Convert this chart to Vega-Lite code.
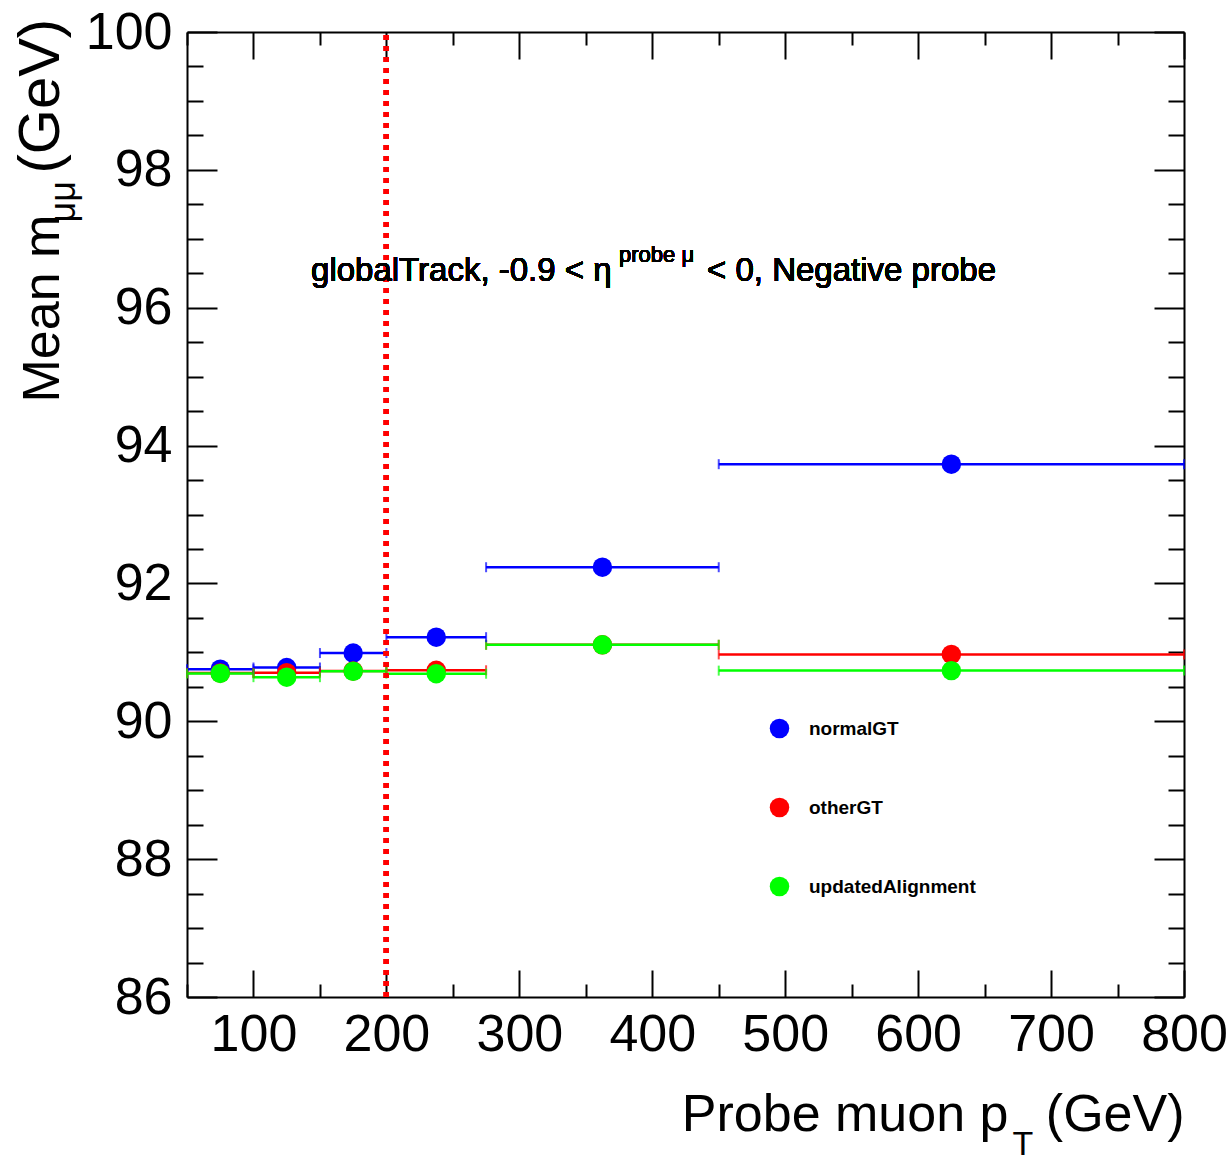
{
  "$schema": "https://vega.github.io/schema/vega-lite/v6.json",
  "width": 997,
  "height": 965,
  "autosize": "none",
  "padding": {"left": 187, "top": 32, "right": 47, "bottom": 166},
  "background": "white",
  "config": {
    "view": {"stroke": null},
    "font": "Liberation Sans",
    "axis": {
      "domainColor": "black", "domainWidth": 2, "tickColor": "black", "tickWidth": 2,
      "grid": false, "labelFont": "Liberation Sans", "titleFont": "Liberation Sans",
      "labelColor": "black", "titleColor": "black", "titleFontWeight": "normal",
      "labelFlush": false, "labelOverlap": false, "labelBound": false
    }
  },
  "data": {"values": [
    {"series": "normalGT", "pt": 75, "lo": 50, "hi": 100, "mean": 90.755},
    {"series": "normalGT", "pt": 125, "lo": 100, "hi": 150, "mean": 90.78},
    {"series": "normalGT", "pt": 175, "lo": 150, "hi": 200, "mean": 90.99},
    {"series": "normalGT", "pt": 237.5, "lo": 200, "hi": 275, "mean": 91.22},
    {"series": "normalGT", "pt": 362.5, "lo": 275, "hi": 450, "mean": 92.235},
    {"series": "normalGT", "pt": 625, "lo": 450, "hi": 800, "mean": 93.73},
    {"series": "otherGT", "pt": 75, "lo": 50, "hi": 100, "mean": 90.70},
    {"series": "otherGT", "pt": 125, "lo": 100, "hi": 150, "mean": 90.705},
    {"series": "otherGT", "pt": 175, "lo": 150, "hi": 200, "mean": 90.73},
    {"series": "otherGT", "pt": 237.5, "lo": 200, "hi": 275, "mean": 90.74},
    {"series": "otherGT", "pt": 362.5, "lo": 275, "hi": 450, "mean": 91.11},
    {"series": "otherGT", "pt": 625, "lo": 450, "hi": 800, "mean": 90.97},
    {"series": "updatedAlignment", "pt": 75, "lo": 50, "hi": 100, "mean": 90.695},
    {"series": "updatedAlignment", "pt": 125, "lo": 100, "hi": 150, "mean": 90.64},
    {"series": "updatedAlignment", "pt": 175, "lo": 150, "hi": 200, "mean": 90.725},
    {"series": "updatedAlignment", "pt": 237.5, "lo": 200, "hi": 275, "mean": 90.69},
    {"series": "updatedAlignment", "pt": 362.5, "lo": 275, "hi": 450, "mean": 91.11},
    {"series": "updatedAlignment", "pt": 625, "lo": 450, "hi": 800, "mean": 90.735}
  ]},
  "resolve": {"axis": {"x": "independent", "y": "independent"}, "legend": {"color": "independent"}},
  "layer": [
    {
      "mark": {"type": "rule", "strokeWidth": 2.5},
      "encoding": {
        "x": {"field": "lo", "type": "quantitative",
          "scale": {"domain": [50, 800], "nice": false, "zero": false},
          "axis": {"orient": "bottom",
            "values": [50,100,150,200,250,300,350,400,450,500,550,600,650,700,750,800],
            "tickSize": {"condition": {"test": "datum.value % 100 === 0", "value": -27}, "value": -13},
            "labelExpr": "datum.value % 100 === 0 ? format(datum.value, 'd') : ''",
            "labelFontSize": 52, "labelPadding": 39,
            "title": "Probe muon p", "titleFontSize": 52, "titleAlign": "right", "titleBaseline": "alphabetic",
            "titleX": 821, "titleY": 133, "titleAngle": 0}},
        "x2": {"field": "hi"},
        "y": {"field": "mean", "type": "quantitative",
          "scale": {"domain": [86, 100], "nice": false, "zero": false},
          "axis": {"orient": "left",
            "values": [86,86.5,87,87.5,88,88.5,89,89.5,90,90.5,91,91.5,92,92.5,93,93.5,94,94.5,95,95.5,96,96.5,97,97.5,98,98.5,99,99.5,100],
            "tickSize": {"condition": {"test": "datum.value % 2 === 0", "value": -30}, "value": -16},
            "labelExpr": "datum.value % 2 === 0 ? format(datum.value, 'd') : ''",
            "labelFontSize": 52, "labelPadding": 45, "labelBaseline": "middle",
            "title": "Mean m", "titleFontSize": 52, "titleAngle": 270, "titleAlign": "left", "titleBaseline": "alphabetic",
            "titleX": -129, "titleY": 370}},
        "color": {"field": "series", "type": "nominal",
          "scale": {"domain": ["normalGT", "otherGT", "updatedAlignment"], "range": ["#0000ff", "#ff0000", "#00ff00"]},
          "legend": null}
      }
    },
    {
      "mark": {"type": "tick", "orient": "vertical", "size": 10, "thickness": 2},
      "encoding": {
        "x": {"field": "lo", "type": "quantitative",
          "axis": {"orient": "top",
            "values": [50,100,150,200,250,300,350,400,450,500,550,600,650,700,750,800],
            "tickSize": {"condition": {"test": "datum.value % 100 === 0", "value": -27}, "value": -13},
            "labels": false, "title": null}},
        "y": {"field": "mean", "type": "quantitative",
          "axis": {"orient": "right",
            "values": [86,86.5,87,87.5,88,88.5,89,89.5,90,90.5,91,91.5,92,92.5,93,93.5,94,94.5,95,95.5,96,96.5,97,97.5,98,98.5,99,99.5,100],
            "tickSize": {"condition": {"test": "datum.value % 2 === 0", "value": -30}, "value": -16},
            "labels": false, "title": null}},
        "color": {"field": "series", "type": "nominal", "legend": null}
      }
    },
    {
      "mark": {"type": "tick", "orient": "vertical", "size": 10, "thickness": 2},
      "encoding": {
        "x": {"field": "hi", "type": "quantitative",
          "axis": {"orient": "bottom", "values": [], "ticks": false, "labels": false, "domain": false,
            "title": "T", "titleFontSize": 34, "titleAlign": "left", "titleBaseline": "alphabetic",
            "titleX": 825, "titleY": 157, "titleAngle": 0}},
        "y": {"field": "mean", "type": "quantitative",
          "axis": {"orient": "left", "values": [], "ticks": false, "labels": false, "domain": false,
            "title": "μμ", "titleFontSize": 36, "titleAngle": 270, "titleAlign": "left", "titleBaseline": "alphabetic",
            "titleX": -113, "titleY": 190}},
        "color": {"field": "series", "type": "nominal", "legend": null}
      }
    },
    {
      "mark": {"type": "rule", "color": "#ff0000", "strokeWidth": 5, "strokeDash": [5, 6]},
      "encoding": {
        "x": {"datum": 200, "axis": null},
        "y": {"datum": 86, "axis": null},
        "y2": {"datum": 100}
      }
    },
    {
      "mark": {"type": "point", "filled": true, "size": 380, "opacity": 1, "strokeWidth": 0},
      "encoding": {
        "x": {"field": "pt", "type": "quantitative",
          "axis": {"orient": "bottom", "values": [], "ticks": false, "labels": false, "domain": false,
            "title": "(GeV)", "titleFontSize": 52, "titleAlign": "right", "titleBaseline": "alphabetic",
            "titleX": 997, "titleY": 133, "titleAngle": 0}},
        "y": {"field": "mean", "type": "quantitative",
          "axis": {"orient": "left", "values": [], "ticks": false, "labels": false, "domain": false,
            "title": "(GeV)", "titleFontSize": 58, "titleAngle": 270, "titleAlign": "left", "titleBaseline": "alphabetic",
            "titleX": -129, "titleY": 141}},
        "color": {"field": "series", "type": "nominal",
          "legend": {"orient": "none", "legendX": 582, "legendY": 686, "title": null, "direction": "vertical",
            "rowPadding": 58, "labelFontSize": 19, "labelFontWeight": "bold", "labelFont": "Liberation Sans",
            "labelLimit": 400, "symbolSize": 380, "symbolType": "circle", "labelOffset": 19, "padding": 0, "labelColor": "black"}}
      }
    },
    {
      "mark": {"type": "text", "align": "left", "baseline": "alphabetic", "fontSize": 33, "font": "Liberation Sans", "color": "black"},
      "encoding": {
        "x": {"datum": 143.3, "axis": null},
        "y": {"datum": 96.39, "axis": null},
        "text": {"value": "globalTrack, -0.9 < η"}
      }
    },
    {
      "mark": {"type": "text", "align": "left", "baseline": "alphabetic", "fontSize": 22, "font": "Liberation Sans", "color": "black"},
      "encoding": {
        "x": {"datum": 375, "axis": null},
        "y": {"datum": 96.66, "axis": null},
        "text": {"value": "probe μ"}
      }
    },
    {
      "mark": {"type": "text", "align": "left", "baseline": "alphabetic", "fontSize": 33, "font": "Liberation Sans", "color": "black"},
      "encoding": {
        "x": {"datum": 441.2, "axis": null},
        "y": {"datum": 96.39, "axis": null},
        "text": {"value": "< 0, Negative probe"}
      }
    }
  ]
}
